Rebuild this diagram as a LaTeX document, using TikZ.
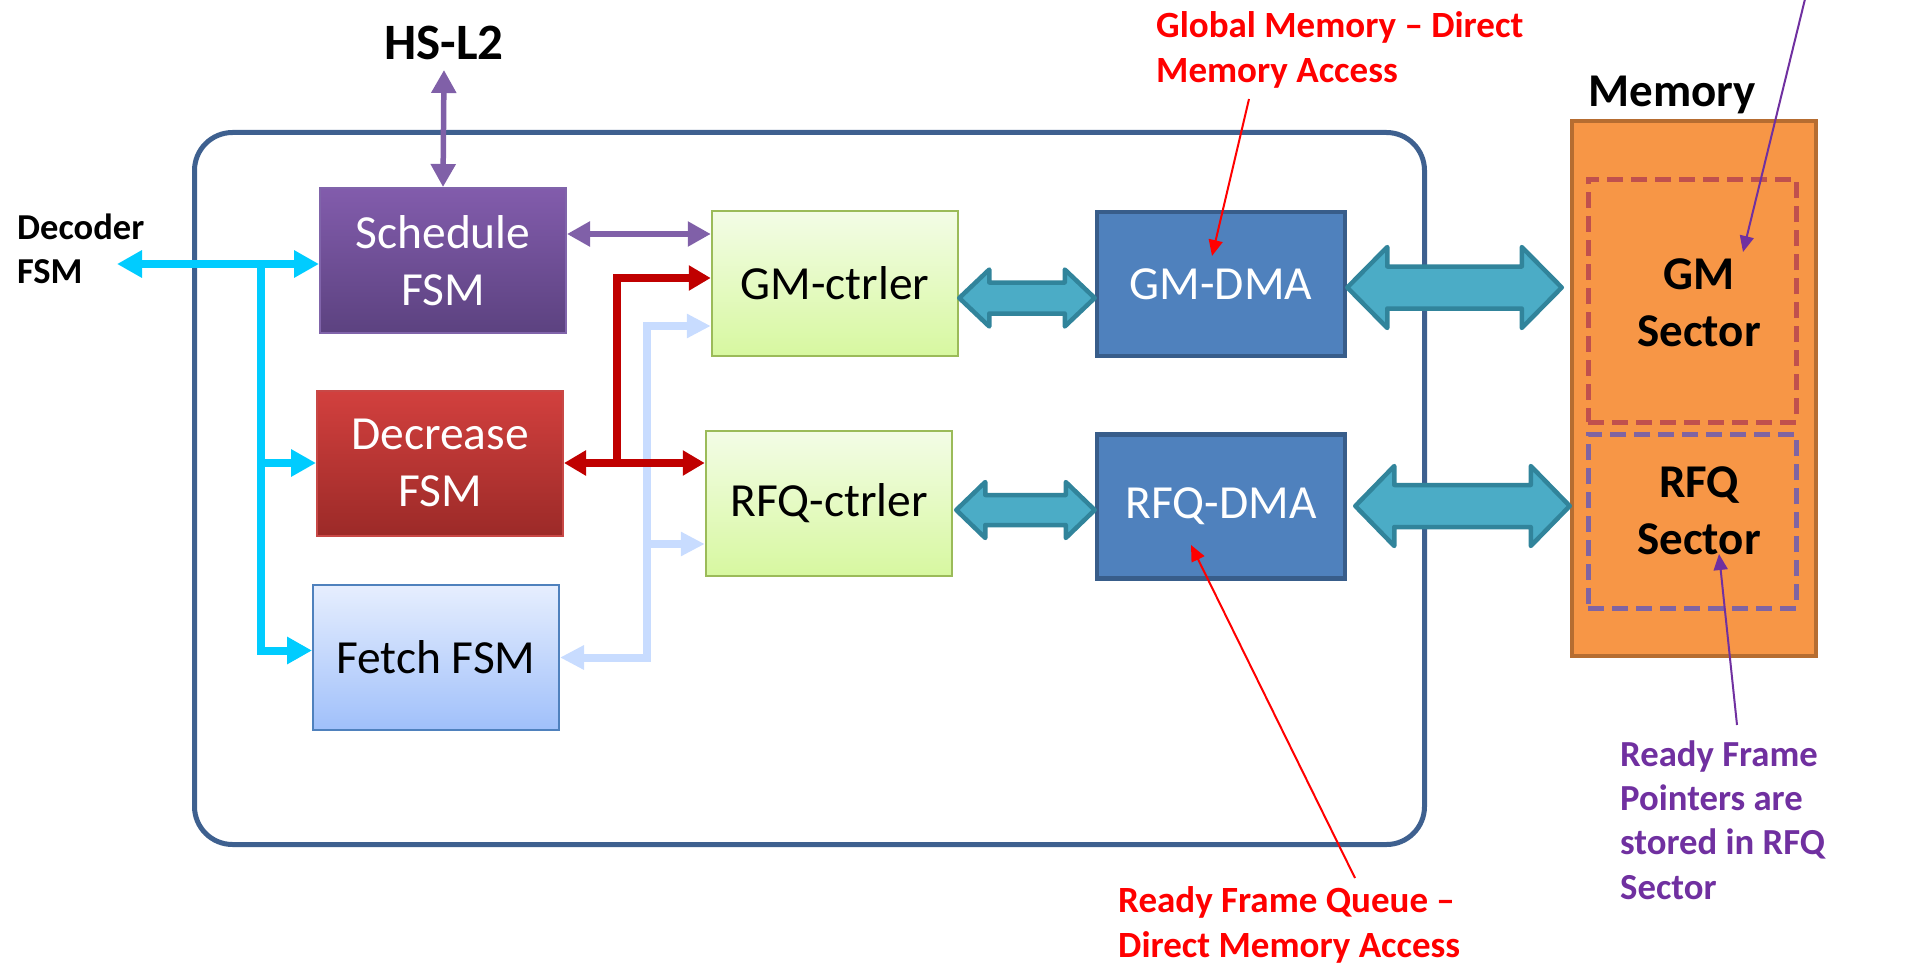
\documentclass[tikz,border=0pt]{standalone}
\usepackage{fontspec}
\setmainfont{Carlito}
\usetikzlibrary{arrows.meta,calc}

\definecolor{frameblue}{RGB}{62,96,143}
\definecolor{schedtop}{RGB}{130,92,172}
\definecolor{schedbot}{RGB}{92,66,128}
\definecolor{schedline}{RGB}{128,100,170}
\definecolor{dectop}{RGB}{210,64,62}
\definecolor{decbot}{RGB}{156,42,40}
\definecolor{decline}{RGB}{200,72,70}
\definecolor{fetchtop}{RGB}{230,238,254}
\definecolor{fetchbot}{RGB}{160,192,250}
\definecolor{fetchline}{RGB}{79,129,189}
\definecolor{ctrltop}{RGB}{243,252,230}
\definecolor{ctrlbot}{RGB}{215,248,160}
\definecolor{ctrlline}{RGB}{155,187,89}
\definecolor{dmafill}{RGB}{79,129,189}
\definecolor{dmaline}{RGB}{56,93,138}
\definecolor{busfill}{RGB}{75,172,198}
\definecolor{busline}{RGB}{49,132,155}
\definecolor{memfill}{RGB}{247,150,70}
\definecolor{memline}{RGB}{182,109,49}
\definecolor{gmdash}{RGB}{192,80,77}
\definecolor{rfqdash}{RGB}{128,100,162}
\definecolor{ctlpurple}{RGB}{128,96,168}
\definecolor{ctlred}{RGB}{192,0,0}
\definecolor{ctllight}{RGB}{200,220,255}
\definecolor{ctlcyan}{RGB}{0,204,255}
\definecolor{noteRed}{RGB}{255,0,0}
\definecolor{notePurple}{RGB}{112,48,160}

% double-headed block arrow between two points: left, right, y, shaft half, head half, head length
\newcommand\fatarrow[6]{%
  \draw[busarrow] let \p1=#1, \p2=#2 in
    (\x1,#3) -- (\x1+#6,#3-#5) -- (\x1+#6,#3-#4) -- (\x2-#6,#3-#4) -- (\x2-#6,#3-#5)
    -- (\x2,#3) -- (\x2-#6,#3+#5) -- (\x2-#6,#3+#4) -- (\x1+#6,#3+#4) -- (\x1+#6,#3+#5) -- cycle;}

\begin{document}
\begin{tikzpicture}[x=1pt,y=-1pt,
  box/.style={minimum width=246pt, minimum height=145pt, inner sep=0pt, align=center,
    font=\fontsize{47.5}{57}\selectfont},
  schedbox/.style={box, top color=schedtop, bottom color=schedbot, draw=schedline, line width=2pt, text=white},
  decbox/.style={box, top color=dectop, bottom color=decbot, draw=decline, line width=2pt, text=white},
  fetchbox/.style={box, top color=fetchtop, bottom color=fetchbot, draw=fetchline, line width=2pt, text=black},
  ctrlbox/.style={box, top color=ctrltop, bottom color=ctrlbot, draw=ctrlline, line width=2.5pt, text=black},
  dmabox/.style={box, minimum width=248pt, minimum height=144pt, fill=dmafill, draw=dmaline, line width=4.5pt, text=white},
  sector/.style={minimum width=208pt, dash pattern=on 16pt off 8pt, line width=5pt},
  bold/.style={font=\fontsize{#1}{#1}\selectfont\bfseries, inner sep=0pt},
  sectortext/.style={align=center, inner sep=0pt, font=\fontsize{47}{57}\selectfont\bfseries},
  note/.style={align=left, anchor=west, inner sep=0pt, font=\fontsize{37}{44.5}\selectfont\bfseries},
  busarrow/.style={fill=busfill, draw=busline, line width=4.5pt, line join=round},
  purplelink/.style={draw=ctlpurple, line width=5.5pt, {Triangle[length=23pt,width=24pt]}-{Triangle[length=23pt,width=24pt]}},
  cyanlink/.style={draw=ctlcyan, line width=8pt, -{Triangle[length=25pt,width=26pt]}},
  redlink/.style={draw=ctlred, line width=8pt, -{Triangle[length=22pt,width=24pt]}},
  lightlink/.style={draw=ctllight, line width=8pt, -{Triangle[length=24pt,width=23pt]}},
  pointer/.style={line width=2pt, -{Triangle[length=16pt,width=14pt]}}
]
\useasboundingbox (0,0) rectangle (1914,963);

% enclosing controller frame
\draw[frameblue, line width=5pt, rounded corners=38pt] (194.5,132.5) rectangle (1424.5,844.5);

% state machines
\node[schedbox] (sched) at (443,260.5) {Schedule\\FSM};
\node[decbox]   (dec)   at (440,463)   {Decrease\\FSM};
\node[fetchbox] (fetch) at (436,657.5) {Fetch FSM};

% controllers
\node[ctrlbox] (gmc)  at (835,283.5) {GM-ctrler};
\node[ctrlbox] (rfqc) at (829,503.5) {RFQ-ctrler};

% DMA engines
\node[dmabox] (gmd)  at (1221,284)   {GM-DMA};
\node[dmabox] (rfqd) at (1221,506.5) {RFQ-DMA};

% memory with its two sectors
\node[fill=memfill, draw=memline, line width=4.5pt, minimum width=244pt, minimum height=535pt] (mem) at (1694,388.5) {};
\node[sector, draw=gmdash, minimum height=243pt] (gmsec) at (1692,300.5) {};
\node[sector, draw=rfqdash, minimum height=174pt] (rfqsec) at (1692,521) {};
\node[sectortext] (gmtxt) at (1699,303) {GM\\Sector};
\node[sectortext] (rfqtxt) at (1699,511) {RFQ\\Sector};
\node[bold=47] (memlbl) at (1672,95) {Memory};

% external labels
\node[bold=51] (hsl2) at (444,43) {HS-L2};
\node[note, text=black, font=\fontsize{36.5}{44}\selectfont\bfseries] (decfsm) at (17,249) {Decoder\\FSM};

% block buses
\fatarrow{(gmc.east)}{(gmd.west)}{298}{15.5}{28.5}{30}
\fatarrow{(gmd.east)}{($(mem.west)+(-8,0)$)}{287.5}{21}{40.5}{40}
\fatarrow{($(rfqc.east)+(3,0)$)}{(rfqd.west)}{510}{15}{28}{29}
\fatarrow{($(rfqd.east)+(8,0)$)}{(mem.west)}{506}{21}{40}{39}

% control links
\coordinate (hsltip) at (444,70);
\draw[purplelink] (hsltip) -- (sched.north);
\draw[purplelink] ([yshift=26.5pt]sched.east) -- ([yshift=26.5pt]sched.east -| gmc.west);

\coordinate (dectip) at (117,264);
\coordinate (cyj) at (261,264);
\draw[cyanlink, {Triangle[length=25pt,width=26pt]}-{Triangle[length=25pt,width=26pt]}] (dectip) -- (dectip -| sched.west);
\draw[cyanlink] (cyj) |- (dec.west);
\draw[cyanlink] (cyj) |- ([yshift=7pt]fetch.west);

\coordinate (lbj) at (646.5,544);
\draw[lightlink, {Triangle[length=24pt,width=23pt]}-{Triangle[length=24pt,width=23pt]}]
  (fetch.east) -- (fetch.east -| lbj) |- ([yshift=-42.5pt]gmc.west);
\draw[lightlink] (lbj) -- (lbj -| rfqc.west);

\coordinate (redj) at (617,463);
\draw[redlink, {Triangle[length=22pt,width=24pt]}-{Triangle[length=22pt,width=24pt]}] (dec.east) -- (dec.east -| rfqc.west);
\draw[redlink] (redj) |- ([yshift=5.5pt]gmc.west);

% annotations
\node[note, text=noteRed] (gmnote) at (1156,50) {Global Memory -- Direct\\Memory Access};
\node[note, text=noteRed] (rfqnote) at (1118,925) {Ready Frame Queue --\\Direct Memory Access};
\node[note, text=notePurple, font=\fontsize{36.7}{44.3}\selectfont\bfseries] (ptrnote) at (1620,820)
  {Ready Frame\\Pointers are\\stored in RFQ\\Sector};

\coordinate (gmnoteA) at (1249,99);
\coordinate (gmnoteB) at (1212,256);
\draw[pointer, noteRed] (gmnoteA) -- (gmnoteB);
\coordinate (rfqnoteA) at (1355,878);
\coordinate (rfqnoteB) at (1191,545);
\draw[pointer, noteRed] (rfqnoteA) -- (rfqnoteB);
\coordinate (gmsecA) at (1806,-5);
\coordinate (gmsecB) at (1743,252);
\draw[pointer, notePurple] (gmsecA) -- (gmsecB);
\coordinate (ptrA) at (1737,725);
\coordinate (ptrB) at (1719,554);
\draw[pointer, notePurple] (ptrA) -- (ptrB);
\end{tikzpicture}
\end{document}
